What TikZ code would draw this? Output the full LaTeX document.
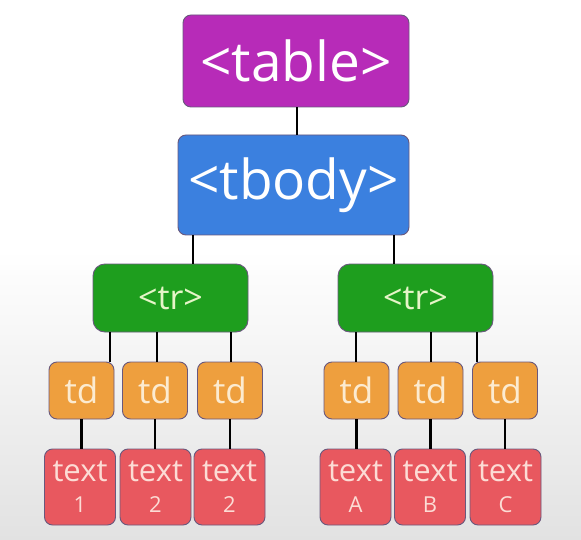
\documentclass[tikz,border=0pt]{standalone}
\usepackage{fontspec}
\setmainfont{Open Sans}
\definecolor{cTable}{RGB}{183,43,184}
\definecolor{cBody}{RGB}{59,128,223}
\definecolor{cTr}{RGB}{30,158,30}
\definecolor{cTd}{RGB}{238,159,62}
\definecolor{cTxt}{RGB}{232,88,95}
\definecolor{cEdge}{RGB}{105,88,125}
\definecolor{fTr}{RGB}{230,245,200}
\definecolor{fTd}{RGB}{252,235,208}
\definecolor{fTxt}{RGB}{252,220,213}
\definecolor{bgGray}{RGB}{226,226,226}
\tikzset{
  box/.style={draw=cEdge, line width=0.9pt, rounded corners=8pt, inner sep=0pt, align=center},
  tablebox/.style={box, fill=cTable, text=white, minimum width=226pt, minimum height=92pt, font=\fontsize{55}{60}\selectfont},
  bodybox/.style={box, fill=cBody, text=white, minimum width=231pt, minimum height=100pt, font=\fontsize{55}{60}\selectfont},
  trbox/.style={box, fill=cTr, text=fTr, minimum width=155pt, minimum height=68pt, rounded corners=12pt, font=\fontsize{34}{40}\selectfont},
  tdbox/.style={box, fill=cTd, text=fTd, minimum width=65pt, minimum height=57pt, font=\fontsize{35}{40}\selectfont},
  txtbox/.style={box, fill=cTxt, text=fTxt, minimum width=71pt, minimum height=76pt, font=\fontsize{22}{31}\selectfont},
  link/.style={line width=2.2pt, black}
}
\newcommand{\txtlab}[1]{{\fontsize{31}{31}\selectfont text}\\{\fontsize{22}{31}\selectfont #1}}
\begin{document}
\begin{tikzpicture}[x=1pt,y=-1pt]
\useasboundingbox (0,0) rectangle (581,540);
\fill[white] (0,0) rectangle (581,250);
\shade[top color=white, bottom color=bgGray] (0,250) rectangle (581,540);

% nodes
\node[tablebox] (table) at (296,61) {<table>};
\node[bodybox] (tbody) at (293.5,185) {<tbody>};
\node[trbox] (trL) at (170.5,298) {<tr>};
\node[trbox] (trR) at (415.5,298) {<tr>};

\node[tdbox] (td1) at (81.5,390.5) {td};
\node[tdbox] (td2) at (155,390.5) {td};
\node[tdbox] (td3) at (230,390.5) {td};
\node[tdbox] (td4) at (356.5,390.5) {td};
\node[tdbox] (td5) at (430.5,390.5) {td};
\node[tdbox] (td6) at (505,390.5) {td};

\node[txtbox] (x1) at (80,487) {\txtlab{1}};
\node[txtbox] (x2) at (155.5,487) {\txtlab{2}};
\node[txtbox] (x3) at (229.5,487) {\txtlab{2}};
\node[txtbox] (x4) at (355.5,487) {\txtlab{A}};
\node[txtbox] (x5) at (430,487) {\txtlab{B}};
\node[txtbox] (x6) at (505.5,487) {\txtlab{C}};

% connectors
\coordinate (c0) at ([xshift=1pt]table.south);
\draw[link] (c0) -- (c0 |- tbody.north);

\coordinate (cL) at ([xshift=-100.5pt]tbody.south);
\coordinate (cR) at ([xshift=100.5pt]tbody.south);
\draw[link] (cL) -- (cL |- trL.north);
\draw[link] (cR) -- (cR |- trR.north);

\coordinate (a1) at ([xshift=-60.5pt]trL.south);
\coordinate (a2) at ([xshift=-13.5pt]trL.south);
\coordinate (a3) at ([xshift=60.5pt]trL.south);
\coordinate (a4) at ([xshift=-59.5pt]trR.south);
\coordinate (a5) at ([xshift=15.5pt]trR.south);
\coordinate (a6) at ([xshift=61.5pt]trR.south);
\draw[link] (a1) -- (a1 |- td1.north);
\draw[link] (a2) -- (a2 |- td2.north);
\draw[link] (a3) -- (a3 |- td3.north);
\draw[link] (a4) -- (a4 |- td4.north);
\draw[link] (a5) -- (a5 |- td5.north);
\draw[link] (a6) -- (a6 |- td6.north);

\draw[link] (td1.south) -- (td1.south |- x1.north);
\draw[link] (td2.south) -- (td2.south |- x2.north);
\draw[link] (td3.south) -- (td3.south |- x3.north);
\draw[link] (td4.south) -- (td4.south |- x4.north);
\draw[link] (td5.south) -- (td5.south |- x5.north);
\draw[link] (td6.south) -- (td6.south |- x6.north);
\end{tikzpicture}
\end{document}
